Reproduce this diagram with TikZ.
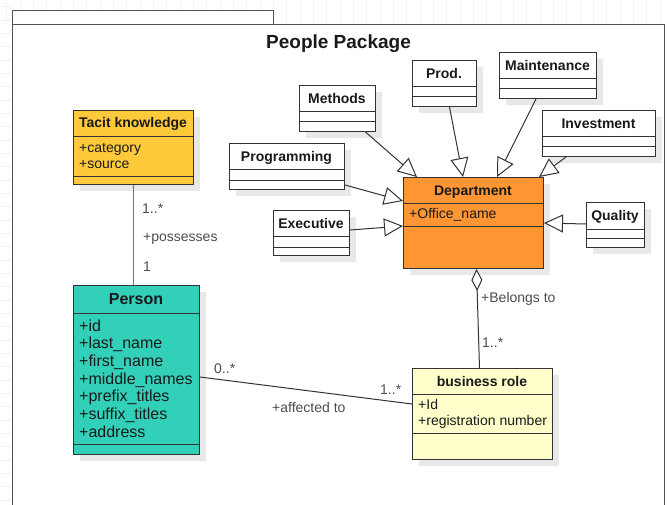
\documentclass[tikz,border=0pt]{standalone}
\usepackage{fontspec}
\setmainfont{Liberation Sans}
\usetikzlibrary{arrows.meta,calc,shadows}
\definecolor{tacitc}{HTML}{FFC93C}
\definecolor{personc}{HTML}{33D0B9}
\definecolor{deptc}{HTML}{FF9633}
\definecolor{rolec}{HTML}{FFFFCC}
\definecolor{edgec}{HTML}{333333}
\definecolor{txtc}{HTML}{1A1A1A}
\definecolor{lblc}{HTML}{4D4D4D}
\definecolor{gridc}{HTML}{F2F2F2}
\begin{document}
\begin{tikzpicture}[x=1pt,y=-1pt,
 cls/.style={draw=edgec, line width=1pt, rectangle, inner sep=0pt, anchor=north west,
   drop shadow={shadow xshift=6pt, shadow yshift=-6pt, fill=black!9, opacity=1}},
 ttl/.style={font=\fontsize{14}{16}\selectfont\bfseries, text=txtc, anchor=base, inner sep=0pt},
 attr/.style={font=\fontsize{14}{16}\selectfont, text=txtc, anchor=base west, inner sep=0pt},
 pattr/.style={font=\fontsize{16}{18}\selectfont, text=txtc, anchor=base west, inner sep=0pt},
 lbl/.style={font=\fontsize{14}{16}\selectfont, text=lblc, anchor=base west, inner sep=0pt},
 sep/.style={draw=edgec, line width=1pt},
 conn/.style={draw=edgec, line width=1pt},
 gen/.style={conn, -{Triangle[open, fill=white, length=19pt, width=18pt]}},
 agg/.style={conn, {Diamond[open, fill=white, length=22pt, width=11pt]}-},
 frm/.style={draw=edgec!85, line width=1.3pt, rectangle, inner sep=0pt, anchor=north west, fill=white},
]
\useasboundingbox (0,0) rectangle (667,504);
\fill[white] (0,0) rectangle (667,504);
% faint grid
\foreach \i in {0,...,49} \draw[gridc, line width=0.6pt] ({6.67+13.333*\i},0) -- ({6.67+13.333*\i},24);
\foreach \j in {0,...,37} \draw[gridc, line width=0.6pt] (0,{6.67+13.333*\j}) -- (12,{6.67+13.333*\j});

% package frame
\node[frm, minimum width=652pt, minimum height=500pt] (pkg) at (12,24) {};
\node[frm, minimum width=261pt, minimum height=14pt] (tab) at (12,10) {};
\node[font=\fontsize{19}{22}\selectfont\bfseries, text=txtc, anchor=base, inner sep=0pt] (pkgtitle) at (338.5,48) {People Package};

% Tacit knowledge
\node[cls, fill=tacitc, minimum width=120pt, minimum height=74pt] (tacit) at (73,110) {};
\draw[sep] (73,136) -- (193,136); \draw[sep] (73,176) -- (193,176);
\node[ttl] (tacitT) at (133,127.5) {Tacit knowledge};
\node[attr] (tacitA1) at (79,152) {+category};
\node[attr] (tacitA2) at (79,168) {+source};

% Person
\node[cls, fill=personc, minimum width=126pt, minimum height=169pt] (person) at (73,285) {};
\draw[sep] (73,313) -- (199,313); \draw[sep] (73,444) -- (199,444);
\node[ttl, font=\fontsize{16}{18}\selectfont\bfseries] (personT) at (136,304.5) {Person};
\node[pattr] (pA1) at (79,331) {+id};
\node[pattr] (pA2) at (79,348.7) {+last\_name};
\node[pattr] (pA3) at (79,366.3) {+first\_name};
\node[pattr] (pA4) at (79,384) {+middle\_names};
\node[pattr] (pA5) at (79,401.7) {+prefix\_titles};
\node[pattr] (pA6) at (79,419.3) {+suffix\_titles};
\node[pattr] (pA7) at (79,437) {+address};

% Department
\node[cls, fill=deptc, minimum width=140pt, minimum height=91pt] (dept) at (403,177) {};
\draw[sep] (403,203) -- (543,203); \draw[sep] (403,226) -- (543,226);
\node[ttl] (deptT) at (473,195) {Department};
\node[attr] (deptA1) at (409,218) {+Office\_name};

% business role
\node[cls, fill=rolec, minimum width=140pt, minimum height=91pt] (role) at (412,368) {};
\draw[sep] (412,394) -- (552,394); \draw[sep] (412,433) -- (552,433);
\node[ttl] (roleT) at (482,386) {business role};
\node[attr] (roleA1) at (418,409) {+Id};
\node[attr] (roleA2) at (418,425.3) {+registration number};

% small classes
\node[cls, fill=white, minimum width=76pt, minimum height=46pt] (methods) at (299,85) {};
\draw[sep] (299,111) -- (375,111); \draw[sep] (299,121) -- (375,121);
\node[ttl] (methodsT) at (337,103) {Methods};

\node[cls, fill=white, minimum width=64pt, minimum height=46pt] (prod) at (412,60) {};
\draw[sep] (412,86) -- (476,86); \draw[sep] (412,96) -- (476,96);
\node[ttl] (prodT) at (444,78) {Prod.};

\node[cls, fill=white, minimum width=97pt, minimum height=46pt] (maint) at (499,52) {};
\draw[sep] (499,78) -- (596,78); \draw[sep] (499,88) -- (596,88);
\node[ttl] (maintT) at (547.5,70) {Maintenance};

\node[cls, fill=white, minimum width=113pt, minimum height=46pt] (invest) at (542,110) {};
\draw[sep] (542,136) -- (655,136); \draw[sep] (542,146) -- (655,146);
\node[ttl] (investT) at (598.5,128) {Investment};

\node[cls, fill=white, minimum width=115pt, minimum height=46pt] (prog) at (229,143) {};
\draw[sep] (229,169) -- (344,169); \draw[sep] (229,180) -- (344,180);
\node[ttl] (progT) at (286.5,161) {Programming};

\node[cls, fill=white, minimum width=76pt, minimum height=45pt] (exec) at (273,210) {};
\draw[sep] (273,236) -- (349,236); \draw[sep] (273,247) -- (349,247);
\node[ttl] (execT) at (311,228) {Executive};

\node[cls, fill=white, minimum width=58pt, minimum height=45pt] (quality) at (586,202) {};
\draw[sep] (586,229) -- (644,229); \draw[sep] (586,238) -- (644,238);
\node[ttl] (qualityT) at (615,220.5) {Quality};

% generalizations
\draw[gen] ($(methods.south)+(28,0)$) -- ($(dept.north west)+(14,0)$);
\draw[gen] ($(prod.south)+(5,0)$) -- ($(dept.north west)+(60,0)$);
\draw[gen] ($(maint.south)+(-12,0)$) -- ($(dept.north west)+(94,0)$);
\draw[gen] ($(invest.south)+(-33,0)$) -- ($(dept.north east)+(-5,0)$);
\draw[gen] ($(prog.south east)+(0,-5)$) -- ($(dept.north west)+(0,24)$);
\draw[gen] ($(exec.north east)+(0,20)$) -- ($(dept.north west)+(0,49)$);
\draw[gen] ($(quality.north west)+(0,22)$) -- ($(dept.north east)+(0,46)$);

% associations
\draw[conn, draw=black!55] (tacit.south) -- (tacit.south |- person.north);
\node[lbl] (m1) at (142,213) {1..*};
\node[lbl] (posses) at (143,241.5) {+possesses};
\node[lbl] (m2) at (143,271.5) {1};

\draw[agg] ($(dept.south)+(3,0)$) -- ($(role.north)+(-3,0)$);
\node[lbl] (belongs) at (481,302.7) {+Belongs to};
\node[lbl] (m3) at (482,347.7) {1..*};

\draw[conn] ($(person.north east)+(0,92)$) -- ($(role.north west)+(0,36)$);
\node[lbl] (m4) at (214,373) {0..*};
\node[lbl] (m5) at (380,394) {1..*};
\node[lbl] (affected) at (272,412) {+affected to};
\end{tikzpicture}
\end{document}
